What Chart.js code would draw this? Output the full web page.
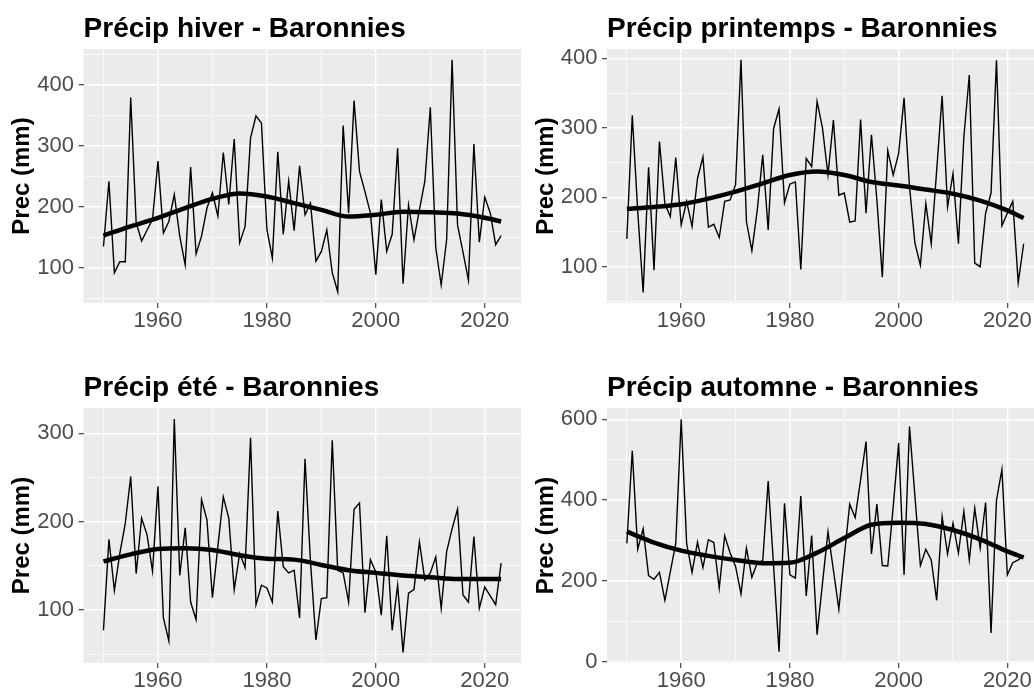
<!DOCTYPE html>
<html lang="fr">
<head>
  <meta charset="UTF-8">
  <title>Précipitations saisonnières - Baronnies</title>
  <script src="https://cdn.jsdelivr.net/npm/chart.js@4.4.1/dist/chart.umd.min.js"></script>
  <style>
    html, body { margin: 0; padding: 0; background: #FFFFFF; overflow: hidden; width: 1034px; height: 693px; }
    canvas { position: absolute; }
  </style>
</head>
<body>
  <canvas id="hiver" style="left:0px;top:0px" width="528" height="334"></canvas>
  <canvas id="printemps" style="left:524px;top:0px" width="527" height="334"></canvas>
  <canvas id="ete" style="left:0px;top:359px" width="528" height="334"></canvas>
  <canvas id="automne" style="left:524px;top:359px" width="527" height="334"></canvas>

  <script>
    // --- data (mm) ---
    const years = [1950,1951,1952,1953,1954,1955,1956,1957,1958,1959,
                   1960,1961,1962,1963,1964,1965,1966,1967,1968,1969,
                   1970,1971,1972,1973,1974,1975,1976,1977,1978,1979,
                   1980,1981,1982,1983,1984,1985,1986,1987,1988,1989,
                   1990,1991,1992,1993,1994,1995,1996,1997,1998,1999,
                   2000,2001,2002,2003,2004,2005,2006,2007,2008,2009,
                   2010,2011,2012,2013,2014,2015,2016,2017,2018,2019,
                   2020,2021,2022,2023];

    const hiver = [135,242,92,110,110,379,174,144,162,179,
                   275,157,176,220,152,105,265,123,152,198,
                   223,185,289,204,311,141,168,313,349,337,
                   163,116,290,155,242,161,267,187,206,111,
                   127,162,92,61,333,190,374,258,225,190,
                   89,212,127,155,296,74,203,146,195,242,
                   363,133,72,146,441,170,126,80,303,142,
                   216,190,138,153];

    const printemps = [140,318,180,63,243,95,280,191,172,257,
                       160,194,158,227,258,157,161,142,194,196,
                       218,398,165,123,182,261,153,299,327,192,
                       219,222,96,256,244,338,299,232,311,203,
                       206,164,166,312,177,290,196,85,267,232,
                       263,343,215,134,102,191,133,239,346,186,
                       234,133,287,376,105,100,177,206,397,159,
                       177,194,77,133];

    const ete = [77,180,122,164,198,251,141,204,185,144,
                 240,91,65,316,139,193,109,89,225,202,
                 114,172,228,204,123,164,148,295,106,128,
                 125,109,212,149,142,145,91,271,155,66,
                 113,114,292,145,142,109,214,221,97,157,
                 143,94,184,77,128,52,119,123,177,134,
                 142,160,102,166,192,214,117,109,183,102,
                 126,116,106,153];

    const automne = [293,522,278,329,213,204,221,152,223,293,
                     600,293,221,296,233,302,295,182,312,269,
                     236,168,281,209,245,250,447,236,25,392,
                     215,207,410,163,312,67,195,322,227,130,
                     260,390,357,450,545,267,390,238,237,384,
                     541,215,582,409,238,278,252,152,359,267,
                     343,269,372,252,380,281,394,71,400,476,
                     215,245,252,262];

    // loess trend, read at a few years
    const smoothYears = [1950,1955,1960,1965,1970,1975,1980,1985,1990,1995,2000,2005,2010,2015,2020,2023];
    const hiverSmooth     = [153,168,182,198,213,222,217,206,195,184,187,192,191,189,182,176];
    const printempsSmooth = [183,186,190,198,208,220,232,237,232,222,217,211,205,195,181,170];
    const eteSmooth       = [155,163,169,170,168,162,158,157,151,145,142,139,137,135,135,135];
    const automneSmooth   = [322,295,275,262,252,244,245,270,306,339,344,341,326,303,273,258];

    // axis ticks
    const xMajor = [1960, 1980, 2000, 2020];
    const xMinor = [1950, 1970, 1990, 2010];
    const hiverYMajor = [100, 200, 300, 400];
    const hiverYMinor = [50, 150, 250, 350, 450];
    const printempsYMajor = [100, 200, 300, 400];
    const printempsYMinor = [50, 150, 250, 350];
    const eteYMajor = [100, 200, 300];
    const eteYMinor = [50, 150, 250];
    const automneYMajor = [0, 200, 400, 600];
    const automneYMinor = [100, 300, 500];

    const FONT = '"Liberation Sans", Arial, Helvetica, sans-serif';
    const xRange = [1946.35, 2026.65];

    // grey panel background, like ggplot
    const panelBg = {
      id: 'panelBg',
      beforeDraw(chart) {
        const { ctx, chartArea: a } = chart;
        ctx.save();
        ctx.fillStyle = '#EBEBEB';
        ctx.fillRect(a.left, a.top, a.right - a.left, a.bottom - a.top);
        ctx.restore();
      }
    };

    function makePanel(id, title, values, smooth, yRange, yMajor, yMinor, yAxisW, xAxisH, padRight) {
      const allX = xMajor.concat(xMinor).sort((a, b) => a - b);
      const allY = yMajor.concat(yMinor).sort((a, b) => a - b);
      return new Chart(document.getElementById(id), {
        type: 'line',
        data: {
          datasets: [
            {
              data: years.map((y, i) => ({ x: y, y: values[i] })),
              borderColor: '#000000',
              borderWidth: 1.4,
              pointRadius: 0,
              tension: 0
            },
            {
              data: smoothYears.map((y, i) => ({ x: y, y: smooth[i] })),
              borderColor: '#000000',
              borderWidth: 4.5,
              pointRadius: 0,
              cubicInterpolationMode: 'monotone'
            }
          ]
        },
        options: {
          responsive: false,
          animation: false,
          devicePixelRatio: 1,
          layout: { padding: { left: 0, right: padRight, top: 0, bottom: 0 } },
          plugins: {
            legend: { display: false },
            tooltip: { enabled: false },
            title: {
              display: true,
              text: title,
              align: 'start',
              fullSize: false,
              color: '#000000',
              font: { family: FONT, size: 28, weight: 'bold', lineHeight: 1.2 },
              padding: { top: 12, bottom: 3.4 }
            }
          },
          scales: {
            x: {
              type: 'linear',
              min: xRange[0],
              max: xRange[1],
              afterBuildTicks: s => { s.ticks = allX.map(v => ({ value: v })); },
              afterFit: s => { s.height = xAxisH; },
              ticks: {
                callback: v => xMajor.includes(v) ? String(v) : '',
                color: '#4D4D4D',
                font: { family: FONT, size: 22 },
                padding: 0,
                maxRotation: 0,
                autoSkip: false
              },
              grid: {
                color: '#FFFFFF',
                lineWidth: c => xMajor.includes(c.tick.value) ? 1.4 : 0.7,
                tickLength: 5,
                tickWidth: 1.1,
                tickColor: c => xMajor.includes(c.tick.value) ? '#333333' : 'rgba(0,0,0,0)'
              },
              border: { display: false }
            },
            y: {
              type: 'linear',
              min: yRange[0],
              max: yRange[1],
              afterBuildTicks: s => { s.ticks = allY.map(v => ({ value: v })); },
              afterFit: s => { s.width = yAxisW; },
              ticks: {
                callback: v => yMajor.includes(v) ? String(v) : '',
                color: '#4D4D4D',
                font: { family: FONT, size: 22 },
                padding: 4.6,
                autoSkip: false
              },
              grid: {
                color: '#FFFFFF',
                lineWidth: c => yMajor.includes(c.tick.value) ? 1.4 : 0.7,
                tickLength: 5,
                tickWidth: 1.1,
                tickColor: c => yMajor.includes(c.tick.value) ? '#333333' : 'rgba(0,0,0,0)'
              },
              border: { display: false },
              title: {
                display: true,
                text: 'Prec (mm)',
                color: '#000000',
                font: { family: FONT, size: 24, weight: 'bold' },
                padding: { top: 8, bottom: 0 }
              }
            }
          }
        },
        plugins: [panelBg]
      });
    }

    makePanel('hiver', 'Précip hiver - Baronnies', hiver, hiverSmooth,
              [42.5, 458.5], hiverYMajor, hiverYMinor, 83.6, 31, 7);
    makePanel('printemps', 'Précip printemps - Baronnies', printemps, printempsSmooth,
              [47.7, 413.4], printempsYMajor, printempsYMinor, 83, 31, 7.5);
    makePanel('ete', 'Précip été - Baronnies', ete, eteSmooth,
              [40, 328.6], eteYMajor, eteYMinor, 83.6, 30, 7);
    makePanel('automne', 'Précip automne - Baronnies', automne, automneSmooth,
              [-3.2, 628], automneYMajor, automneYMinor, 83, 30, 7.5);
  </script>
</body>
</html>
